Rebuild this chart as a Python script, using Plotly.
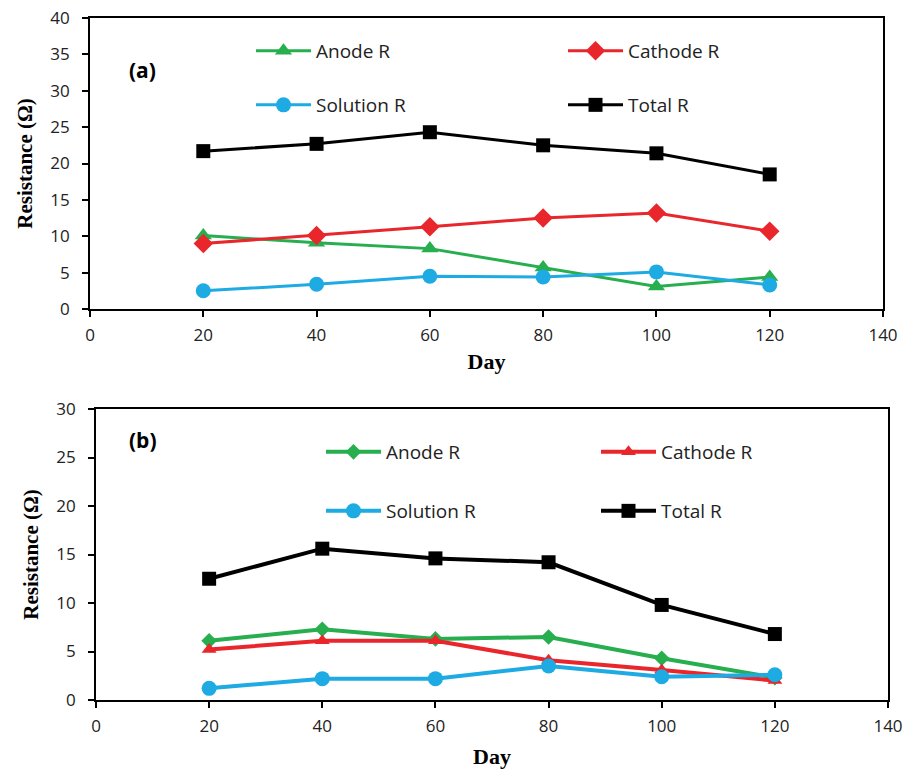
import plotly.graph_objects as go

days = [20, 40, 60, 80, 100, 120]

# Panel (a)
a_anode = [10.1, 9.1, 8.3, 5.7, 3.1, 4.4]
a_cathode = [9.0, 10.1, 11.3, 12.5, 13.2, 10.7]
a_solution = [2.5, 3.4, 4.5, 4.4, 5.1, 3.3]
a_total = [21.7, 22.7, 24.3, 22.5, 21.4, 18.5]

# Panel (b)
b_anode = [6.1, 7.3, 6.3, 6.5, 4.3, 2.3]
b_cathode = [5.2, 6.1, 6.1, 4.1, 3.1, 2.0]
b_solution = [1.2, 2.2, 2.2, 3.5, 2.4, 2.6]
b_total = [12.5, 15.6, 14.6, 14.2, 9.8, 6.8]

x_ticks = [0, 20, 40, 60, 80, 100, 120, 140]

GREEN = "#27ae4f"
RED = "#e8262b"
BLUE = "#1eaae2"
BLACK = "#000000"
SANS = "Open Sans"
SERIF = "Liberation Serif"

fig = go.Figure()

def add(x, y, name, color, symbol, xa, ya, legend, lw, ms):
    fig.add_trace(go.Scatter(
        x=x, y=y, name=name, mode="lines+markers",
        line=dict(color=color, width=lw),
        marker=dict(color=color, symbol=symbol, size=ms),
        xaxis=xa, yaxis=ya, legend=legend))

add(days, a_anode, "Anode R", GREEN, "triangle-up", "x", "y", "legend", 3, 15)
add(days, a_cathode, "Cathode R", RED, "diamond", "x", "y", "legend", 3, 15)
add(days, a_solution, "Solution R", BLUE, "circle", "x", "y", "legend2", 3, 15)
add(days, a_total, "Total R", BLACK, "square", "x", "y", "legend2", 3, 14)

add(days, b_anode, "Anode R", GREEN, "diamond", "x2", "y2", "legend3", 4, 12)
add(days, b_cathode, "Cathode R", RED, "triangle-up", "x2", "y2", "legend3", 4, 13)
add(days, b_solution, "Solution R", BLUE, "circle", "x2", "y2", "legend4", 4, 15)
add(days, b_total, "Total R", BLACK, "square", "x2", "y2", "legend4", 4, 14)

W, H = 907, 773

def px(x):
    return x / W

def py(y):
    return 1 - y / H

axis_common = dict(
    showline=True, linecolor="black", linewidth=1.8, mirror=True,
    ticks="outside", ticklen=6, tickwidth=1.5, tickcolor="black",
    showgrid=False, zeroline=False, automargin=False,
    ticklabeloverflow="allow",
    tickfont=dict(family=SANS, size=17, color="#222"),
)

fig.update_layout(
    width=W, height=H,
    margin=dict(l=0, r=0, t=0, b=0, autoexpand=False),
    paper_bgcolor="white", plot_bgcolor="white",
    xaxis=dict(domain=[px(90), px(883)], range=[0, 140], tickvals=x_ticks,
               anchor="y", ticklabelstandoff=4,
               title=dict(text="<b>Day</b>", font=dict(family=SERIF, size=22, color="black"), standoff=8),
               **axis_common),
    yaxis=dict(domain=[py(309), py(18)], range=[0, 40], dtick=5,
               anchor="x", ticklabelstandoff=9,
               title=dict(text="<b>Resistance (Ω)</b>", font=dict(family=SERIF, size=21, color="black"), standoff=12),
               **axis_common),
    xaxis2=dict(domain=[px(96), px(888)], range=[0, 140], tickvals=x_ticks,
                anchor="y2", ticklabelstandoff=4,
                title=dict(text="<b>Day</b>", font=dict(family=SERIF, size=22, color="black"), standoff=12),
                **axis_common),
    yaxis2=dict(domain=[py(700), py(409)], range=[0, 30], dtick=5,
                anchor="x2", ticklabelstandoff=9,
                title=dict(text="<b>Resistance (Ω)</b>", font=dict(family=SERIF, size=21, color="black"), standoff=12),
                **axis_common),
    showlegend=True,
)

leg_common = dict(orientation="h", xanchor="left", yanchor="middle",
                  bgcolor="rgba(0,0,0,0)", itemwidth=55,
                  font=dict(family=SANS, size=19, color="#222"))

fig.update_layout(
    legend=dict(x=px(251), y=py(51), entrywidth=242, **leg_common),
    legend2=dict(x=px(251), y=py(105), entrywidth=242, **leg_common),
    legend3=dict(x=px(321), y=py(452), entrywidth=205, **leg_common),
    legend4=dict(x=px(321), y=py(511), entrywidth=205, **leg_common),
)

fig.add_annotation(x=px(142), y=py(70), xref="paper", yref="paper",
                   xanchor="center", yanchor="middle",
                   text="<b>(a)</b>", showarrow=False,
                   font=dict(family=SANS, size=21, color="black"))
fig.add_annotation(x=px(143), y=py(440), xref="paper", yref="paper",
                   xanchor="center", yanchor="middle",
                   text="<b>(b)</b>", showarrow=False,
                   font=dict(family=SANS, size=21, color="black"))

fig.write_html("out.html",
               config={"displayModeBar": False},
               post_script="document.body.style.margin='0';document.body.style.overflow='hidden';")
